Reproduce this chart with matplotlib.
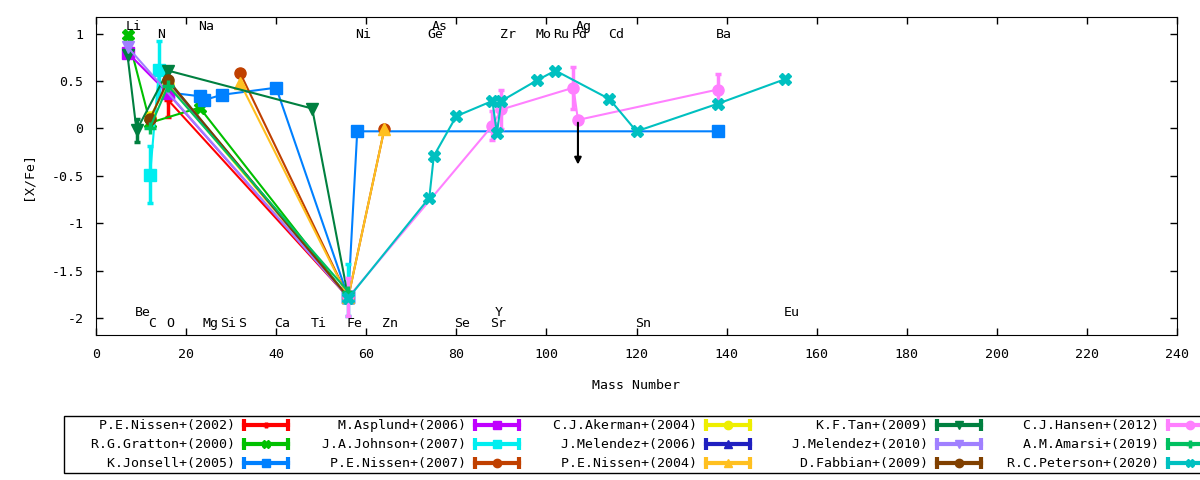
import matplotlib
matplotlib.use("Agg")
import matplotlib.pyplot as plt
from matplotlib.lines import Line2D
from matplotlib.legend_handler import HandlerBase

plt.rcParams['font.family'] = 'DejaVu Sans Mono'
plt.rcParams['font.size'] = 9.5
plt.rcParams['axes.unicode_minus'] = False

# element labels: name, mass number, height of the label
elem_names = ["Li", "Be", "C", "N", "O", "Na", "Mg", "Si", "S", "Ca", "Ti", "Fe", "Ni", "Zn",
              "Ge", "As", "Se", "Sr", "Y", "Zr", "Mo", "Ru", "Pd", "Ag", "Cd", "Sn", "Ba", "Eu"]
elem_mass = [7, 9, 12, 14, 16, 23, 24, 28, 32, 40, 48, 56, 58, 64,
             74, 75, 80, 88, 89, 90, 98, 102, 106, 107, 114, 120, 138, 153]
elem_ypos = [1.08, -1.94, -2.06, 0.99, -2.06, 1.08, -2.06, -2.06, -2.06, -2.06, -2.06, -2.06, 0.99, -2.06,
             0.99, 1.08, -2.06, -2.06, -1.94, 0.99, 0.99, 0.99, 0.99, 1.08, 0.99, -2.06, 0.99, -1.94]

# [X/Fe] per study (x = mass number, lo/hi = error down/up, 0 = none)
nissen02_x = [16, 56]
nissen02_y = [0.30, -1.78]
nissen02_lo = [0.18, 0]
nissen02_hi = [0.18, 0]

gratton00_x = [7, 12, 23, 56]
gratton00_y = [0.98, 0.06, 0.22, -1.78]
gratton00_lo = [0, 0, 0, 0]
gratton00_hi = [0, 0, 0, 0]

jonsell05_x = [16, 23, 24, 28, 40, 56, 58, 138]
jonsell05_y = [0.38, 0.34, 0.30, 0.355, 0.43, -1.78, -0.03, -0.03]
jonsell05_lo = [0, 0, 0, 0, 0, 0, 0, 0]
jonsell05_hi = [0, 0, 0, 0, 0, 0, 0, 0]

asplund06_x = [7, 16, 56]
asplund06_y = [0.80, 0.37, -1.78]
asplund06_lo = [0, 0, 0]
asplund06_hi = [0, 0, 0]

johnson07_x = [12, 14, 56]
johnson07_y = [-0.49, 0.62, -1.78]
johnson07_lo = [0.30, 0.30, 0.20]
johnson07_hi = [0.30, 0.30, 0.35]

nissen07_x = [32, 56, 64]
nissen07_y = [0.585, -1.78, -0.01]
nissen07_lo = [0, 0, 0]
nissen07_hi = [0, 0, 0]

akerman04_x = [12, 16, 56]
akerman04_y = [0.12, 0.47, -1.78]
akerman04_lo = [0, 0, 0]
akerman04_hi = [0, 0, 0]

melendez06_x = [16, 56]
melendez06_y = [0.50, -1.78]
melendez06_lo = [0, 0]
melendez06_hi = [0, 0]

nissen04_x = [32, 56, 64]
nissen04_y = [0.48, -1.78, -0.01]
nissen04_lo = [0, 0, 0]
nissen04_hi = [0, 0, 0]

tan09_x = [7, 9, 16, 48, 56]
tan09_y = [0.77, -0.02, 0.61, 0.21, -1.78]
tan09_lo = [0, 0.12, 0, 0, 0]
tan09_hi = [0, 0.12, 0, 0, 0]

melendez10_x = [7, 56]
melendez10_y = [0.86, -1.78]
melendez10_lo = [0, 0]
melendez10_hi = [0, 0]

fabbian09_x = [12, 16, 56]
fabbian09_y = [0.10, 0.51, -1.78]
fabbian09_lo = [0, 0, 0]
fabbian09_hi = [0, 0, 0]

hansen12_x = [56, 88, 90, 106, 107, 138]
hansen12_y = [-1.78, 0.03, 0.20, 0.43, 0.09, 0.41]
hansen12_lo = [0.20, 0.15, 0.21, 0.22, 0, 0.16]
hansen12_hi = [0.20, 0.15, 0.21, 0.22, 0, 0.16]
hansen12_ul_x = [107]
hansen12_ul_y = [0.09]

amarsi19_x = [12, 16, 56]
amarsi19_y = [0.01, 0.45, -1.72]
amarsi19_lo = [0, 0, 0]
amarsi19_hi = [0, 0, 0]

peterson20_x = [56, 74, 75, 80, 88, 89, 90, 98, 102, 114, 120, 138, 153]
peterson20_y = [-1.79, -0.73, -0.29, 0.13, 0.29, -0.05, 0.29, 0.51, 0.61, 0.31, -0.03, 0.26, 0.52]
peterson20_lo = [0] * 13
peterson20_hi = [0] * 13

studies = [
    ("P.E.Nissen+(2002)", nissen02_x, nissen02_y, nissen02_lo, nissen02_hi, "#ff0000", "+", 6),
    ("R.G.Gratton+(2000)", gratton00_x, gratton00_y, gratton00_lo, gratton00_hi, "#00c000", "X", 8),
    ("K.Jonsell+(2005)", jonsell05_x, jonsell05_y, jonsell05_lo, jonsell05_hi, "#0080ff", "s", 8),
    ("M.Asplund+(2006)", asplund06_x, asplund06_y, asplund06_lo, asplund06_hi, "#c000ff", "s", 8),
    ("J.A.Johnson+(2007)", johnson07_x, johnson07_y, johnson07_lo, johnson07_hi, "#00eef0", "s", 8),
    ("P.E.Nissen+(2007)", nissen07_x, nissen07_y, nissen07_lo, nissen07_hi, "#c04000", "o", 8),
    ("C.J.Akerman+(2004)", akerman04_x, akerman04_y, akerman04_lo, akerman04_hi, "#eeee00", "o", 8),
    ("J.Melendez+(2006)", melendez06_x, melendez06_y, melendez06_lo, melendez06_hi, "#2020c0", "^", 8),
    ("P.E.Nissen+(2004)", nissen04_x, nissen04_y, nissen04_lo, nissen04_hi, "#ffc020", "^", 8),
    ("K.F.Tan+(2009)", tan09_x, tan09_y, tan09_lo, tan09_hi, "#008040", "v", 8),
    ("J.Melendez+(2010)", melendez10_x, melendez10_y, melendez10_lo, melendez10_hi, "#a080ff", "v", 8),
    ("D.Fabbian+(2009)", fabbian09_x, fabbian09_y, fabbian09_lo, fabbian09_hi, "#804000", "o", 8),
    ("C.J.Hansen+(2012)", hansen12_x, hansen12_y, hansen12_lo, hansen12_hi, "#ff80ff", "o", 8),
    ("A.M.Amarsi+(2019)", amarsi19_x, amarsi19_y, amarsi19_lo, amarsi19_hi, "#00c060", "+", 8),
    ("R.C.Peterson+(2020)", peterson20_x, peterson20_y, peterson20_lo, peterson20_hi, "#00c0c0", "X", 8),
]


class HandlerGp(HandlerBase):
    # gnuplot style key sample: |--o--|
    def create_artists(self, legend, orig, xd, yd, w, h, fs, trans):
        c = orig.get_color()
        y = h / 2 - yd
        x0, x1 = -xd, w - xd
        bar = Line2D([x0, x1], [y, y], color=c, lw=3, transform=trans)
        caps = Line2D([x0, x1], [y, y], ls='none', marker='|', ms=9, mew=3, color=c, transform=trans)
        mk = Line2D([(x0 + x1) / 2], [y], ls='none', marker=orig.get_marker(),
                    ms=orig.get_markersize() * 0.75, mew=orig.get_markeredgewidth(), color=c,
                    transform=trans)
        return [bar, caps, mk]


fig = plt.figure(figsize=(12, 4.8), dpi=100)
ax = fig.add_axes([96 / 1200, 1 - 335 / 480, (1177 - 96) / 1200, (335 - 17) / 480])

handles = []
for name, xs, ys, lo, hi, col, mk, ms in studies:
    mew = 2.5 if mk == "+" else 1
    ln, = ax.plot(xs, ys, color=col, lw=1.5, marker=mk, ms=ms, mew=mew, label=name)
    handles.append(ln)
    idx = [i for i in range(len(xs)) if lo[i] > 0 or hi[i] > 0]
    if idx:
        ax.errorbar([xs[i] for i in idx], [ys[i] for i in idx],
                    yerr=[[lo[i] for i in idx], [hi[i] for i in idx]],
                    fmt='none', ecolor=col, elinewidth=2.5, capsize=2.5, capthick=2.5)

# upper limit (Ag, Hansen)
for x, y in zip(hansen12_ul_x, hansen12_ul_y):
    ax.annotate('', xy=(x, y - 0.5), xytext=(x, y),
                arrowprops=dict(arrowstyle='-|>', color='black', lw=1.5, mutation_scale=10))

for nm, m, yp in zip(elem_names, elem_mass, elem_ypos):
    ax.text(m - 0.4, yp, nm, ha='left', va='center')

ax.set_xlim(0, 240)
ax.set_ylim(-2.177, 1.175)
ax.set_xticks(range(0, 241, 20))
ax.set_yticks([-2, -1.5, -1, -0.5, 0, 0.5, 1])
ax.set_yticklabels(["-2", "-1.5", "-1", "-0.5", "0", "0.5", "1"])
ax.tick_params(direction='in', top=True, right=True, length=5, width=1, pad=9)
ax.set_xlabel("Mass Number", labelpad=13)
ax.set_ylabel("[X/Fe]", labelpad=12)

labels = [s[0].rjust(21) for s in studies]
leg = fig.legend(handles, labels, ncol=5, loc='upper left', bbox_to_anchor=(64 / 1200, 1 - 416 / 480),
                 markerfirst=False, frameon=True, fancybox=False, edgecolor='black', framealpha=1,
                 borderaxespad=0, borderpad=0.25, handlelength=3.33, handletextpad=0.68,
                 columnspacing=0.76, labelspacing=0.45, handler_map={Line2D: HandlerGp()})
leg.get_frame().set_linewidth(1)

fig.savefig("out.png", dpi=100)
